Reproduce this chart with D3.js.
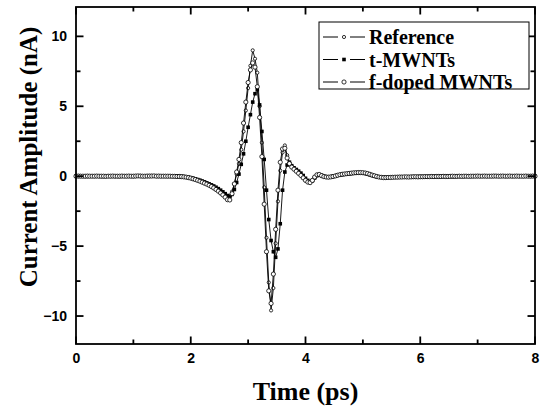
<!DOCTYPE html>
<html>
<head>
<meta charset="utf-8">
<script src="https://cdn.jsdelivr.net/npm/d3@7/dist/d3.min.js"></script>
<style>
  html, body { margin: 0; padding: 0; background: #fff; }
  svg { display: block; }
</style>
</head>
<body>
<div id="chart"></div>
<script>
// Time grid of the measurement: 0 to 8 ps, one sample every 0.04 ps
const timeStep = 0.04;
const xTicks = [0, 2, 4, 6, 8];
const xMinorTicks = [1, 3, 5, 7];
const yTicks = [-10, -5, 0, 5, 10];
const yMinorTicks = [-7.5, -2.5, 2.5, 7.5];
const seriesNames = ['Reference', 't-MWNTs', 'f-doped MWNTs'];

// Current amplitude (nA)
const reference = [
  0, 0, 0.01, 0, -0.01, 0, 0.01, 0.01, 0, 0,
  0, -0.01, 0, 0, 0.01, 0, 0, -0.01, 0, 0,
  0, 0.01, 0.01, 0, 0, -0.01, 0, 0.01, 0.02, 0.01,
  0, 0, 0.01, 0.02, 0.02, 0.01, 0, 0, 0.01, 0.01,
  0, 0, 0, -0.01, -0.01, -0.01, -0.02, -0.04, -0.06, -0.09,
  -0.13, -0.17, -0.22, -0.27, -0.33, -0.39, -0.45, -0.52, -0.59, -0.67,
  -0.76, -0.86, -0.97, -1.09, -1.22, -1.36, -1.50, -1.45, -1.10, -0.55,
  0.15, 0.90, 1.90, 3.20, 4.70, 6.30, 7.90, 9.00, 8.40, 7.40,
  5.00, 2.40, -0.80, -4.40, -7.60, -9.60, -8.00, -4.80, -1.80, 0.40,
  1.70, 2.20, 1.50, 0.95, 0.70, 0.55, 0.40, 0.25, 0.10, -0.08,
  -0.25, -0.38, -0.45, -0.32, -0.10, 0.08, 0.12, 0.05, -0.02, -0.05,
  -0.06, -0.05, -0.02, 0.02, 0.06, 0.10, 0.13, 0.15, 0.17, 0.19,
  0.21, 0.23, 0.24, 0.25, 0.25, 0.24, 0.22, 0.18, 0.13, 0.07,
  0.02, -0.03, -0.06, -0.08, -0.09, -0.09, -0.08, -0.08, -0.07, -0.07,
  -0.06, -0.06, -0.05, -0.05, -0.06, -0.05, -0.04, -0.04, -0.05, -0.04,
  -0.04, -0.03, -0.03, -0.04, -0.03, -0.02, -0.03, -0.03, -0.02, -0.02,
  -0.02, -0.01, -0.02, -0.01, -0.01, -0.02, -0.01, 0, -0.01, -0.01,
  0, 0, -0.01, 0, 0.01, 0, 0, 0.01, 0, 0,
  0.01, 0.01, 0, 0, 0.01, 0.02, 0.01, 0, 0.01, 0,
  0, 0.01, 0, 0, 0.01, 0, 0, 0.01, 0, 0,
  0
];

const tMWNTs = [
  0.01, 0, 0, 0.01, 0, -0.01, 0, 0, 0.01, 0,
  0, 0, -0.01, 0, 0, 0.01, 0.01, 0, 0, -0.01,
  0, 0, 0.01, 0.01, 0, 0, 0, 0.01, 0.01, 0.02,
  0.01, 0, 0, 0.01, 0.01, 0.02, 0.01, 0, 0, 0.01,
  0.01, 0, 0, 0, -0.01, -0.01, -0.02, -0.03, -0.05, -0.08,
  -0.11, -0.15, -0.19, -0.24, -0.29, -0.35, -0.41, -0.48, -0.55, -0.62,
  -0.70, -0.79, -0.89, -1.00, -1.12, -1.25, -1.38, -1.45, -1.30, -0.95,
  -0.45, 0.15, 0.85, 1.60, 2.50, 3.50, 4.40, 5.30, 5.90, 6.20,
  5.10, 3.20, 1.20, -1.00, -3.10, -4.60, -5.40, -5.80, -5.20, -3.40,
  -1.00, 0.30, 0.80, 1.00, 0.75, 0.60, 0.48, 0.36, 0.22, 0.05,
  -0.15, -0.30, -0.40, -0.32, -0.12, 0.04, 0.10, 0.06, 0, -0.04,
  -0.05, -0.04, -0.01, 0.03, 0.07, 0.10, 0.12, 0.14, 0.16, 0.18,
  0.20, 0.21, 0.22, 0.23, 0.23, 0.22, 0.20, 0.16, 0.11, 0.06,
  0.01, -0.03, -0.06, -0.07, -0.08, -0.08, -0.08, -0.07, -0.07, -0.06,
  -0.06, -0.05, -0.05, -0.06, -0.05, -0.04, -0.05, -0.04, -0.04, -0.03,
  -0.03, -0.04, -0.03, -0.03, -0.02, -0.03, -0.02, -0.02, -0.03, -0.02,
  -0.01, -0.02, -0.01, -0.01, -0.02, -0.01, 0, -0.01, 0, -0.01,
  0, 0, 0, 0.01, 0, 0, 0.01, 0, 0, 0.01,
  0, 0.01, 0.01, 0, 0, 0.01, 0.01, 0, 0, 0,
  0.01, 0, 0, 0.01, 0, 0, 0.01, 0, 0, 0,
  0
];

const fDopedMWNTs = [
  0, 0.01, 0, 0, 0, 0.01, 0, 0, 0, 0.01,
  0, 0, 0, -0.01, 0, 0, 0.01, 0, 0, 0,
  0.01, 0, 0, 0.01, 0, 0, 0.01, 0.02, 0.01, 0,
  0, 0.01, 0.01, 0.01, 0.02, 0, 0.01, 0, 0, 0,
  0, 0, -0.01, -0.01, -0.02, -0.02, -0.03, -0.05, -0.07, -0.10,
  -0.14, -0.19, -0.24, -0.30, -0.36, -0.43, -0.50, -0.57, -0.65, -0.74,
  -0.84, -0.95, -1.07, -1.20, -1.34, -1.50, -1.68, -1.70, -1.25, -0.55,
  0.30, 1.20, 2.40, 3.80, 5.30, 6.70, 7.60, 8.10, 7.80, 6.40,
  4.20, 1.40, -2.00, -5.40, -8.20, -9.10, -7.00, -3.80, -1.00, 1.00,
  1.95, 2.00, 1.30, 0.90, 0.65, 0.50, 0.35, 0.20, 0.05, -0.12,
  -0.30, -0.42, -0.46, -0.30, -0.06, 0.10, 0.12, 0.04, -0.03, -0.06,
  -0.07, -0.05, -0.02, 0.02, 0.07, 0.11, 0.14, 0.16, 0.18, 0.20,
  0.22, 0.24, 0.25, 0.26, 0.26, 0.25, 0.23, 0.19, 0.14, 0.08,
  0.03, -0.02, -0.06, -0.08, -0.10, -0.10, -0.09, -0.09, -0.08, -0.07,
  -0.07, -0.06, -0.06, -0.05, -0.05, -0.06, -0.05, -0.04, -0.04, -0.05,
  -0.04, -0.04, -0.03, -0.03, -0.03, -0.02, -0.03, -0.02, -0.02, -0.02,
  -0.01, -0.02, -0.02, -0.01, 0, -0.01, -0.01, 0, -0.01, 0,
  0, -0.01, 0, 0, 0, 0.01, 0, 0, 0.01, 0,
  0, 0, 0.01, 0.01, 0, 0, 0.01, 0, 0, 0.01,
  0, 0, 0.01, 0, 0, 0, 0.01, 0, 0, 0.01,
  0
];

function renderPulseChart() {
  const W = 545, H = 410;
  const margin = { top: 7, right: 10, bottom: 66, left: 76 };
  const width = W - margin.left - margin.right;
  const height = H - margin.top - margin.bottom;

  const svg = d3.select('#chart').append('svg')
    .attr('width', W)
    .attr('height', H);

  // scales in page coordinates
  const x = d3.scaleLinear().domain([0, 8]).range([margin.left, margin.left + width]);
  const y = d3.scaleLinear().domain([-12, 12.1]).range([margin.top + height, margin.top]);
  const x0 = margin.left, x1 = margin.left + width;
  const y0 = margin.top, y1 = margin.top + height;

  const series = [
    { name: seriesNames[0], values: reference, shape: 'smallCircle' },
    { name: seriesNames[1], values: tMWNTs, shape: 'square' },
    { name: seriesNames[2], values: fDopedMWNTs, shape: 'circle' }
  ];

  const tickFont = 'font-family:"Liberation Sans",Arial,sans-serif;font-weight:bold;font-size:14px;fill:#000';

  // tick labels from d3 axes
  const xAxis = svg.append('g').attr('transform', `translate(0,${y1})`)
    .call(d3.axisBottom(x).tickValues(xTicks).tickSize(0).tickPadding(9).tickFormat(d3.format('d')));
  const yAxis = svg.append('g').attr('transform', `translate(${x0},0)`)
    .call(d3.axisLeft(y).tickValues(yTicks).tickSize(0).tickPadding(9).tickFormat(d3.format('d')));
  [xAxis, yAxis].forEach(a => {
    a.select('.domain').remove();
    a.selectAll('text').attr('style', tickFont);
  });

  // data lines + markers
  const line = d3.line()
    .x((d, i) => x(i * timeStep))
    .y(d => y(d));

  function drawMarker(sel, shape) {
    if (shape === 'square') {
      sel.append('rect')
        .attr('x', -1.8).attr('y', -1.8)
        .attr('width', 3.6).attr('height', 3.6)
        .attr('fill', '#000');
    } else {
      sel.append('circle')
        .attr('r', shape === 'circle' ? 2.1 : 1.6)
        .attr('fill', '#fff')
        .attr('stroke', '#000')
        .attr('stroke-width', 0.8);
    }
  }

  series.forEach(s => {
    const sg = svg.append('g');
    sg.append('path')
      .datum(s.values)
      .attr('fill', 'none')
      .attr('stroke', '#000')
      .attr('stroke-width', 0.9)
      .attr('d', line);

    sg.selectAll('g.pt')
      .data(s.values)
      .enter()
      .append('g')
      .attr('class', 'pt')
      .attr('transform', (d, i) => `translate(${x(i * timeStep)},${y(d)})`)
      .each(function () { drawMarker(d3.select(this), s.shape); });
  });

  // frame
  svg.append('rect')
    .attr('x', x0).attr('y', y0)
    .attr('width', width).attr('height', height)
    .attr('fill', 'none')
    .attr('stroke', '#000')
    .attr('stroke-width', 1.8);

  // tick marks as small filled rects, inward on all four sides
  const xTickDefs = xTicks.map(v => ({ v, len: 7.5 })).concat(xMinorTicks.map(v => ({ v, len: 4.5 })));
  const yTickDefs = yTicks.map(v => ({ v, len: 7.5 })).concat(yMinorTicks.map(v => ({ v, len: 4.5 })));
  const tickLayer = svg.append('g').attr('fill', '#000');
  const tw = 1.8;

  tickLayer.selectAll('rect.tb').data(xTickDefs).enter().append('rect')
    .attr('class', 'tb')
    .attr('x', d => x(d.v) - tw / 2).attr('y', d => y1 - d.len)
    .attr('width', tw).attr('height', d => d.len);
  tickLayer.selectAll('rect.tt').data(xTickDefs).enter().append('rect')
    .attr('class', 'tt')
    .attr('x', d => x(d.v) - tw / 2).attr('y', y0)
    .attr('width', tw).attr('height', d => d.len);
  tickLayer.selectAll('rect.tl').data(yTickDefs).enter().append('rect')
    .attr('class', 'tl')
    .attr('x', x0).attr('y', d => y(d.v) - tw / 2)
    .attr('width', d => d.len).attr('height', tw);
  tickLayer.selectAll('rect.tr').data(yTickDefs).enter().append('rect')
    .attr('class', 'tr')
    .attr('x', d => x1 - d.len).attr('y', d => y(d.v) - tw / 2)
    .attr('width', d => d.len).attr('height', tw);

  // legend
  const lg = svg.append('g').attr('transform', 'translate(319,22)');
  lg.append('rect')
    .attr('width', 210).attr('height', 67)
    .attr('fill', '#fff')
    .attr('stroke', '#000')
    .attr('stroke-width', 1);

  series.forEach((s, i) => {
    const row = lg.append('g').attr('transform', `translate(0,${15 + i * 22.5})`);
    row.append('line').attr('x1', 4).attr('x2', 19).attr('stroke', '#000').attr('stroke-width', 1);
    row.append('line').attr('x1', 31).attr('x2', 46).attr('stroke', '#000').attr('stroke-width', 1);
    drawMarker(row.append('g').attr('transform', 'translate(25,0)'), s.shape);
    row.append('text')
      .attr('x', 50)
      .attr('y', 0)
      .attr('dy', '0.35em')
      .attr('style', 'font-family:"Liberation Serif","Times New Roman",serif;font-weight:bold;font-size:20px;fill:#000')
      .text(s.name);
  });

  // axis titles
  svg.append('text')
    .attr('x', margin.left + width / 2)
    .attr('y', 400)
    .attr('text-anchor', 'middle')
    .attr('style', 'font-family:"Liberation Serif","Times New Roman",serif;font-weight:bold;font-size:26px;fill:#000')
    .text('Time (ps)');

  svg.append('text')
    .attr('transform', 'translate(37,157) rotate(-90)')
    .attr('text-anchor', 'middle')
    .attr('style', 'font-family:"Liberation Serif","Times New Roman",serif;font-weight:bold;font-size:25px;fill:#000')
    .text('Current Amplitude (nA)');
}

renderPulseChart();
</script>
</body>
</html>
